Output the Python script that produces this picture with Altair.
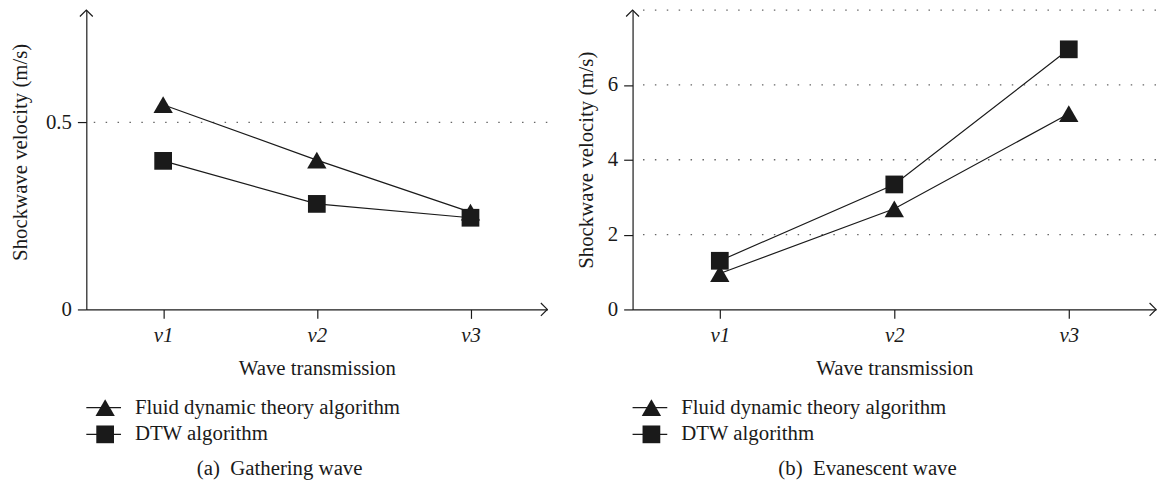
import altair as alt
import pandas as pd

# ---------------- data ----------------
categories = ["v1", "v2", "v3"]
series_names = ["Fluid dynamic theory algorithm", "DTW algorithm"]
series_shapes = ["triangle-up", "square"]

gathering_fluid = [0.547, 0.399, 0.260]
gathering_dtw = [0.397, 0.282, 0.245]
evanescent_fluid = [0.96, 2.69, 5.23]
evanescent_dtw = [1.30, 3.34, 6.95]

gathering_ticks = [0, 0.5]
gathering_grid = [0.5]
evanescent_ticks = [0, 2, 4, 6]
evanescent_grid = [2, 4, 6, 8]

x_title = "Wave transmission"
y_title = "Shockwave velocity (m/s)"
captions = ["(a)\u2002Gathering wave", "(b)\u2002Evanescent wave"]

# ---------------- style ----------------
FONT = "Liberation Serif"
FS = 21
INK = "#1a1a1a"
H = 302
LEG_ROWS = [401, 428]


def panel(fluid, dtw, width, ymax, ticks, grid, title_x, title_y, caption, cap_x):
    data = pd.DataFrame({
        "cat": categories * 2,
        "series": [series_names[0]] * 3 + [series_names[1]] * 3,
        "value": list(fluid) + list(dtw),
    })
    xenc = alt.X(
        "cat:N", sort=categories,
        scale=alt.Scale(type="point", domain=categories, padding=0.5),
        axis=alt.Axis(title=x_title, labelAngle=0, labelFontStyle="italic",
                      tickSize=9, labelPadding=6, titleY=60, titleBaseline="middle",
                      grid=False, domainColor=INK, tickColor=INK),
    )
    yscale = alt.Scale(domain=[0, ymax], nice=False, zero=True)
    yaxis = alt.Axis(title=y_title, values=ticks, tickSize=9, labelPadding=6,
                     grid=False, titleX=title_x, titleY=title_y,
                     titleBaseline="middle", domainColor=INK, tickColor=INK,
                     format="~g")
    yenc = alt.Y("value:Q", scale=yscale, axis=yaxis, title=y_title)

    grid_df = pd.DataFrame({"g": grid})
    gridl = alt.Chart(grid_df).mark_rule(
        color="#666", strokeWidth=1.3, strokeDash=[1.5, 10.5]
    ).encode(y=alt.Y("g:Q", scale=yscale, axis=yaxis, title=y_title))

    line = alt.Chart(data).mark_line(color=INK, strokeWidth=1.2).encode(
        x=xenc, y=yenc, detail="series:N")

    pts = alt.Chart(data).mark_point(filled=True, opacity=1, color=INK).encode(
        x=xenc, y=yenc,
        shape=alt.Shape("series:N", scale=alt.Scale(domain=series_names, range=series_shapes), legend=None),
        size=alt.Size("series:N", scale=alt.Scale(domain=series_names, range=[380, 320]), legend=None),
    )

    one = pd.DataFrame({"k": [0]})
    up_arrow = alt.Chart(one).mark_point(
        shape="M-1,1L0,0L1,1", filled=False, stroke=INK, strokeWidth=1.2, size=169, opacity=1
    ).encode(x=alt.value(0), y=alt.value(0))
    right_arrow = alt.Chart(one).mark_point(
        shape="M-1,-1L0,0L-1,1", filled=False, stroke=INK, strokeWidth=1.2, size=169, opacity=1
    ).encode(x=alt.value(width), y=alt.value(H))

    leg = pd.DataFrame({"series": series_names, "row": [0, 1]})
    legend_layers = []
    for i in range(2):
        base = alt.Chart(leg).transform_filter(alt.datum.row == i)
        legend_layers.append(base.mark_rule(color=INK, strokeWidth=1.2).encode(
            x=alt.value(0), x2=alt.value(35), y=alt.value(LEG_ROWS[i])))
        legend_layers.append(base.mark_point(
            filled=True, opacity=1, color=INK, shape=series_shapes[i],
            size=[380, 320][i]).encode(x=alt.value(19), y=alt.value(LEG_ROWS[i])))
        legend_layers.append(base.mark_text(
            align="left", baseline="middle", font=FONT, fontSize=FS, color=INK
        ).encode(x=alt.value(49), y=alt.value(LEG_ROWS[i]), text="series:N"))

    cap = alt.Chart(pd.DataFrame({"c": [caption]})).mark_text(
        align="center", baseline="middle", font=FONT, fontSize=FS, color=INK
    ).encode(x=alt.value(cap_x), y=alt.value(463), text="c:N")

    return alt.layer(gridl, line, pts, up_arrow, right_arrow, *legend_layers, cap).properties(
        width=width, height=H)


pa = panel(gathering_fluid, gathering_dtw, 465, 0.8, gathering_ticks, gathering_grid,
           -66, 143, captions[0], 195)
pb = panel(evanescent_fluid, evanescent_dtw, 528, 8, evanescent_ticks, evanescent_grid,
           -46, 151, captions[1], 237)

chart = alt.hconcat(pa, pb, spacing=86, bounds="flush").properties(
    padding={"left": 2, "top": -3, "right": 0, "bottom": 0},
    background="white",
).configure_view(stroke=None).configure_axis(
    labelFont=FONT, titleFont=FONT, labelFontSize=FS, titleFontSize=FS,
    labelColor=INK, titleColor=INK, titleFontWeight="normal",
    domainWidth=1.2, tickWidth=1.2,
)

chart.save("out.html", embed_options={"renderer": "svg", "actions": False})
